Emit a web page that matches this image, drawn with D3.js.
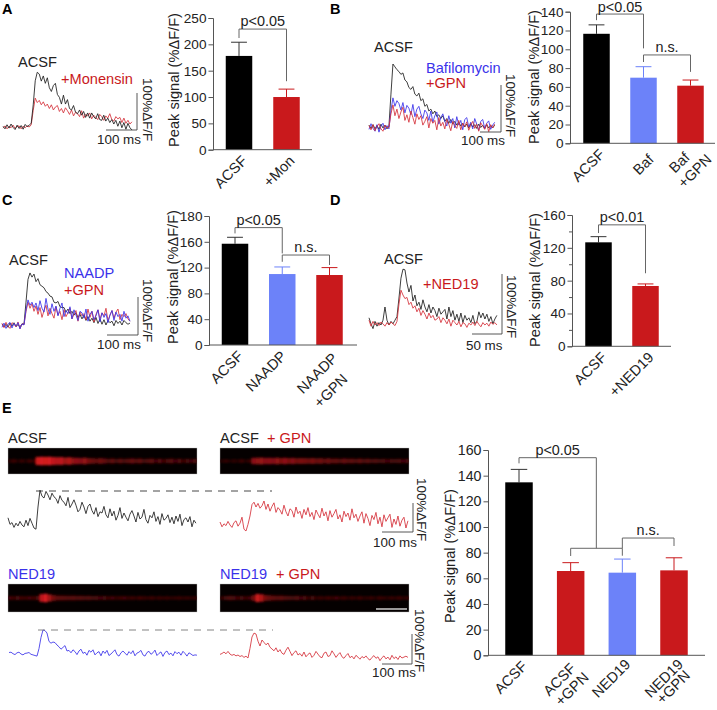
<!DOCTYPE html>
<html><head><meta charset="utf-8">
<script src="https://cdnjs.cloudflare.com/ajax/libs/d3/7.8.5/d3.min.js"></script>
<style>html,body{margin:0;padding:0;background:#fff}svg{display:block}text{font-family:"Liberation Sans",Arial,sans-serif;fill:#222}</style>
</head><body><svg id="c" width="717" height="710"></svg>
<script>
// ---- bar chart data ----
const catsA=["ACSF","+Mon"], meanA=[178,100], errA=[204,115];
const catsB=["ACSF","Baf","Baf\n+GPN"], meanB=[116.5,69.8,61.3], errB=[126,81.5,67.3];
const catsC=["ACSF","NAADP","NAADP\n+GPN"], meanC=[157,110,108.5], errC=[167,121,120];
const catsD=["ACSF","+NED19"], meanD=[126.7,73.5], errD=[133.6,76];
const catsE=["ACSF","ACSF\n+GPN","NED19","NED19\n+GPN"], meanE=[134.8,65.7,64.4,66.2], errE=[144.9,72.2,75,76];
const ticksA=[0,50,100,150,200,250], ticksB=[0,20,40,60,80,100,120,140], ticksC=[0,40,80,120,160,200], ticksD=[0,40,80,120,160], ticksE=[0,20,40,60,80,100,120,140,160];
const tickLabelsC=["0","40","80","120","160","180"];
const minorD=[20,60,100,140];
// ---- calcium transients, %dF/F against baseline ----
const trAblack=[2,-5,6,-3,8,-1,-7,5,-4,4,-6,7,1,5,10,60,125,148,143,124,138,118,133,106,96,112,118,88,80,62,86,62,74,50,46,58,40,36,46,32,42,26,38,24,38,28,22,36,20,18,32,16,24,12,20,8,18,2,16,-2,12,-6,10,-2,-8];
const trAred=[-3,3,-5,2,-2,5,-4,1,3,-5,2,-2,3,0,6,45,78,66,72,60,68,56,62,50,60,46,54,58,42,50,38,52,44,34,46,30,40,36,28,44,24,34,30,38,22,32,26,20,34,28,18,30,24,36,20,16,28,22,26,12,24,10,18,8,14];
const trBblack=[4,-3,5,-4,3,-5,6,-2,4,-4,2,70,134,128,122,118,112,115,100,96,84,80,86,70,66,72,56,60,44,48,34,38,28,34,22,26,18,24,12,18,8,16,6,12,4,10,2,8,0,6,-2,7,0,5,-3,6,-1,4,-3,5,-2,3,-2,4];
const trBblue=[-5,7,-3,-9,5,-11,2,8,-6,3,-4,35,62,44,56,50,36,52,30,46,40,26,48,22,38,44,28,18,36,30,14,34,10,24,32,6,20,28,12,2,24,8,18,-2,22,4,14,-6,16,20,0,10,-4,18,6,-7,12,16,-3,8,13,-5,4,10];
const trBred=[3,-6,5,-8,1,7,-4,-9,4,-2,0,28,47,24,38,18,32,42,14,26,10,34,20,6,28,16,24,4,12,22,-2,18,8,14,-6,20,2,10,-4,16,6,-8,12,3,-3,14,-6,8,1,11,-7,4,12,-3,6,-9,9,2,-5,7,-10,5,-2,6];
const trCblack=[3,-5,2,-6,5,-3,6,-4,1,-5,3,2,60,120,137,126,134,114,122,106,102,98,88,84,76,74,60,58,62,48,46,46,34,42,30,36,26,32,20,28,16,26,12,22,10,18,6,20,4,16,2,14,0,12,6,10,-2,12,4,10,0,12,6,2,5];
const trCblue=[-6,5,-9,2,7,-8,4,-3,6,-10,3,0,40,66,52,60,46,58,38,64,44,34,70,42,28,56,36,50,24,44,58,22,38,30,48,16,40,26,12,36,32,18,42,10,28,36,14,24,40,8,32,20,30,6,26,38,12,34,22,28,10,36,18,24,10];
const trCred=[4,-7,7,-3,-9,6,2,-5,8,-10,3,1,35,60,44,56,36,50,28,46,20,38,52,24,44,30,18,48,26,36,14,40,22,32,44,16,28,38,10,34,24,30,14,42,20,36,8,28,40,16,32,24,44,12,26,38,18,34,42,14,28,22,30,16,10];
const trDblack=[12,2,-6,6,-2,4,0,8,30,8,0,6,2,8,14,45,78,93,92,70,55,66,40,50,32,38,26,42,30,22,34,20,30,24,14,28,18,22,26,10,30,14,24,8,18,6,20,4,16,8,12,4,16,2,6,22,12,20,10,18,6,14,2,10,16];
const trDred=[8,-2,6,0,4,-1,5,2,-2,4,0,5,2,-1,6,35,58,50,44,46,34,38,28,32,22,28,16,24,18,10,20,12,16,8,10,14,4,12,8,2,10,-2,8,4,0,6,-3,4,2,-4,3,0,5,-1,6,1,-3,4,0,3,-2,5,1,4,0];
const trEblack=[24,2,8,-8,6,-3,12,0,-6,16,-2,22,6,-10,-14,60,116,96,90,112,100,84,106,94,88,72,98,82,76,64,92,58,70,84,66,44,52,76,60,38,62,70,48,36,58,28,44,40,62,34,24,54,30,46,16,32,58,22,40,26,14,36,48,30,10,42,20,26,52,18,6,32,24,44,12,28,2,38,16,22,34,8,26,4,30,12,36,-2,18,24,10,28,-6,16,6];
const trEred=[10,-6,4,-2,12,0,-8,8,14,-4,6,26,-14,-20,2,30,68,76,60,72,56,64,80,52,70,46,62,74,42,58,50,36,66,44,30,54,48,26,60,38,46,22,52,34,58,28,42,18,50,36,24,56,30,44,14,48,26,38,52,20,34,10,46,28,40,16,54,24,36,12,30,44,6,38,22,-2,32,18,42,4,26,-6,34,12,24,36,-8,20,2,30,-4,16,26,-10,14];
const trEblue=[5,6,1,-2,4,6,0,-3,2,3,5,-1,-3,-5,-7,18,55,80,78,70,42,36,40,38,30,24,16,22,28,10,12,4,14,8,-2,10,16,2,6,-4,12,6,14,-3,4,8,-6,10,2,12,-5,0,7,14,-2,-7,4,10,3,-4,8,1,11,-6,3,6,12,-3,-7,5,9,-1,4,13,-5,2,7,-8,5,10,-2,3,-6,8,1,6,-4,9,2,-7,4,0,-5,-3,-4];
const trEred2=[2,5,10,4,12,3,-1,2,-3,0,-5,-2,-8,-4,-10,22,60,73,70,46,30,50,42,34,40,26,20,14,24,10,18,6,2,16,26,12,-2,8,14,0,5,-4,10,-6,2,7,-8,-1,12,3,-6,-9,6,10,-5,-2,14,4,-8,1,8,-6,-11,-2,5,-9,-4,-13,-1,-7,-14,-5,-10,-3,-12,-17,-8,-2,-11,-6,-19,-9,-3,-13,-7,-16,-1,-12,-6,-15,-3,-10,-7,-4,-8];
// ---- line-scan images, brightness along the line ----
const scan1=[.22,.3,.18,.28,.2,.32,.24,.95,1,.98,1,.92,.88,.9,.78,.85,.72,.7,.66,.72,.6,.55,.5,.58,.52,.42,.5,.38,.48,.4,.46,.52,.44,.5,.36,.42,.48,.34,.44,.32,.4,.46,.34,.42,.3,.38,.34,.4];
const scan2=[.2,.26,.16,.24,.2,.3,.18,.28,.7,.72,.75,.68,.7,.66,.72,.64,.7,.62,.66,.58,.62,.6,.56,.62,.54,.58,.5,.56,.48,.5,.44,.52,.46,.48,.42,.5,.4,.46,.38,.42,.36,.4,.34,.38,.36,.4,.34,.38];
const scan3=[.34,.3,.36,.32,.3,.34,.32,.38,.9,1,.8,.6,.5,.48,.46,.44,.46,.42,.44,.4,.42,.36,.38,.34,.36,.3,.34,.28,.32,.34,.28,.3,.26,.32,.28,.26,.3,.24,.28,.26,.28,.24,.26,.28,.24,.26,.24,.26];
const scan4=[.28,.36,.42,.38,.32,.36,.3,.34,.6,.95,.85,.62,.55,.5,.46,.48,.42,.4,.36,.42,.34,.38,.28,.36,.24,.3,.26,.32,.28,.34,.26,.3,.22,.28,.24,.3,.22,.24,.28,.2,.3,.26,.22,.28,.24,.3,.22,.26];

// ---- styles ----
const RED="#c9191c", BLUE="#6c82f9", TBLUE="#3a32ea", LRED="#d5303a", LBLACK="#1c1c1c", AX="#555";
const svg=d3.select("#c");
const defs=svg.append("defs");
defs.append("filter").attr("id","blur").attr("x","-10%").attr("y","-100%").attr("width","120%").attr("height","300%").append("feGaussianBlur").attr("stdDeviation","0.9 1.1");

function label(x,y,t,fs,col,opt={}){const s=svg.append("text").attr("x",x).attr("y",y).attr("font-size",fs).text(t);
  if(col)s.style("fill",col); if(opt.w)s.attr("font-weight",opt.w); if(opt.a)s.attr("text-anchor",opt.a); return s;}
function vlabel(x,y,t,fs,rot){return svg.append("text").attr("transform",`translate(${x},${y}) rotate(${rot})`).attr("font-size",fs).attr("text-anchor","middle").text(t);}

function barChart(c){
  const y=d3.scaleLinear().domain([0,c.max]).range([c.y0,c.y1]);
  const x=d3.scalePoint().domain(c.cats).range([c.cx0,c.cx1]);
  const g=svg.append("g");
  c.cats.forEach((k,i)=>{
    const col=c.colors[i], cx=x(k), w=c.bw;
    g.append("line").attr("x1",cx).attr("x2",cx).attr("y1",y(c.mean[i])).attr("y2",y(c.err[i])).attr("stroke",col==="#000"?"#333":col).attr("stroke-width",1);
    g.append("line").attr("x1",cx-w*.3).attr("x2",cx+w*.3).attr("y1",y(c.err[i])).attr("y2",y(c.err[i])).attr("stroke",col==="#000"?"#333":col).attr("stroke-width",1);
    g.append("rect").attr("x",cx-w/2).attr("width",w).attr("y",y(c.mean[i])).attr("height",y(0)-y(c.mean[i])).attr("fill",col);
  });
  const ax=d3.axisLeft(y).tickValues(c.ticks).tickSize(4.5).tickPadding(2).tickFormat((d,i)=>c.tickLabels?c.tickLabels[i]:d);
  const ag=svg.append("g").attr("transform",`translate(${c.xa},0)`).call(ax);
  ag.selectAll("text").attr("font-size",c.fs).style("font-family",'"Liberation Sans",Arial,sans-serif').style("fill","#222");
  ag.selectAll("line,path").attr("stroke",AX);
  if(c.minor) svg.append("g").attr("transform",`translate(${c.xa},0)`).call(d3.axisLeft(y).tickValues(c.minor).tickSize(3).tickFormat("")).call(s=>{s.select("path").remove();s.selectAll("line").attr("stroke",AX);});
  svg.append("line").attr("x1",c.xa).attr("x2",c.xe).attr("y1",y(0)).attr("y2",y(0)).attr("stroke",AX);
  // category labels
  c.cats.forEach((k,i)=>{
    const base=c.l1?c.l1[i]:[0,0];
    k.split("\n").forEach((t,j)=>{
      const off=j&&c.l2?c.l2[i]:[0,0];
      const tx=x(k)+c.ldx+base[0]+off[0], ty=c.y0+c.ldy+base[1]+off[1];
      svg.append("text").attr("transform",`translate(${tx},${ty}) rotate(-45)`).attr("text-anchor","end").attr("font-size",c.lfs).text(t);
    });
  });
  // significance brackets
  (c.br||[]).forEach(b=>{
    const p=d3.path();
    const xa=x(c.cats[b.a])+(b.da||0), xb=x(c.cats[b.b])+(b.db||0);
    p.moveTo(xa,y(b.l)); p.lineTo(xa,y(b.t)); p.lineTo(xb,y(b.t)); p.lineTo(xb,y(b.r));
    svg.append("path").attr("d",p.toString()).attr("fill","none").attr("stroke","#666").attr("stroke-width",1);
    if(b.text) label((xa+xb)/2+(b.tx||0),y(b.t)-(b.ty||3),b.text,14.4,null,{a:"middle"});
  });
  vlabel(c.yl,(c.ylc),"Peak signal (%ΔF/F)",c.ylfs,-90);
  return {x,y};
}

function traces(c){
  const tx=d3.scaleLinear().domain([0,100]).range([0,c.px100ms]);
  const ty=d3.scaleLinear().domain([0,100]).range([c.base,c.base-c.px100]);
  c.series.forEach(s=>{
    const dt=s.dt||c.dt, x0=s.x0!==undefined?s.x0:c.x0, b=s.base!==undefined?s.base:c.base;
    const line=d3.line().x((d,i)=>x0+tx(i*dt)).y(d=>ty(d)+(b-c.base)).curve(d3.curveLinear);
    svg.append("path").attr("d",line(s.v)).attr("fill","none").attr("stroke",s.col).attr("stroke-width",.85).attr("stroke-linejoin","round");
  });
}
function scaleBar(xr,yt,yb,len,ms,msx,msy,nx,ny){
  const p=d3.path();p.moveTo(xr,yt);p.lineTo(xr,yb);p.lineTo(xr-len,yb);
  svg.append("path").attr("d",p.toString()).attr("fill","none").attr("stroke","#444").attr("stroke-width",.9);
  label(msx,msy,ms,13.4);
  svg.append("text").attr("transform",`translate(${nx},${ny}) rotate(90)`).attr("font-size",13.4).text("100%ΔF/F");
}
let scanId=0;
function scan(x0,yc,w,h,vals){
  svg.append("rect").attr("x",x0).attr("y",yc-h/2).attr("width",w).attr("height",h).attr("fill","#050000").attr("stroke","#bbb").attr("stroke-width",.4);
  const id="sc"+(scanId++);
  defs.append("clipPath").attr("id",id).append("rect").attr("x",x0).attr("y",yc-h/2).attr("width",w).attr("height",h);
  const sx=d3.scaleLinear().domain([0,vals.length]).range([x0,x0+w]);
  const cv=d3.scalePow().exponent(1.4).domain([0,1]).range(["#180000","#d81c20"]);
  const g=svg.append("g").attr("clip-path",`url(#${id})`).append("g").attr("filter","url(#blur)");
  vals.forEach((v,i)=>{const hh=1.5+v*7;
    g.append("rect").attr("x",sx(i)).attr("y",yc-hh/2).attr("width",sx(1)-sx(0)+.4).attr("height",hh).attr("fill",cv(v));});
}
function dashed(x1,x2,y,col){svg.append("line").attr("x1",x1).attr("x2",x2).attr("y1",y).attr("y2",y).attr("stroke",col).attr("stroke-width",.9).attr("stroke-dasharray","7 6");}

// panel letters
[["A",2,14],["B",330,14],["C",2,205],["D",330,205],["E",2,413]].forEach(d=>label(d[1],d[2],d[0],14.5,"#000",{w:"bold"}));

const LF=14.6;
// Panel A
traces({dt:6.5,x0:3,base:127,px100:37,px100ms:31,series:[{v:trAred,col:LRED},{v:trAblack,col:LBLACK}]});
label(18,67,"ACSF",14.6); label(61,84,"+Monensin",14.6,RED);
scaleBar(137,93,130,31,"100 ms",97,144,143,78);
barChart({cats:catsA,mean:meanA,err:errA,colors:["#000",RED],ticks:ticksA,max:250,y0:149.7,y1:18,cx0:239,cx1:286.5,bw:26.5,xa:213,xe:312,fs:13.6,lfs:LF,ldx:9,ldy:12,yl:179,ylc:80,ylfs:14.6,
  br:[{a:0,b:1,t:229,l:212,r:130,text:"p<0.05"}]});

// Panel B
traces({dt:9.5,x0:369,base:127,px100:47,px100ms:21,series:[{v:trBblack,col:LBLACK},{v:trBblue,col:TBLUE},{v:trBred,col:LRED}]});
label(374,52,"ACSF",14.6); label(426,73,"Bafilomycin",14.6,TBLUE); label(426,88,"+GPN",14.6,RED);
scaleBar(501,85,132,21,"100 ms",461,145,506,74);
barChart({cats:catsB,mean:meanB,err:errB,colors:["#000",BLUE,RED],ticks:ticksB,max:140,y0:143.3,y1:11.7,cx0:596.5,cx1:690.5,bw:26.5,xa:570,xe:715,fs:13.6,lfs:LF,ldx:9,ldy:12,l1:[[0,0],[2,5],[-9,3]],l2:[[0,0],[0,0],[22,2]],yl:539,ylc:77,ylfs:14.6,
  br:[{a:0,b:1,t:137.5,l:131,r:101,text:"p<0.05",ty:2},{a:1,b:2,t:94,l:86.5,r:76,text:"n.s."}]});

// Panel C
traces({dt:6.45,x0:2,base:325,px100:38,px100ms:31,series:[{v:trCblack,col:LBLACK},{v:trCred,col:LRED},{v:trCblue,col:TBLUE}]});
label(9,265,"ACSF",14.6); label(64,278,"NAADP",14.6,TBLUE); label(64,295,"+GPN",14.6,RED);
scaleBar(138,297,335,31,"100 ms",97,349,143,279);
barChart({cats:catsC,mean:meanC,err:errC,colors:["#000",BLUE,RED],ticks:ticksC,tickLabels:tickLabelsC,max:200,y0:345,y1:216,cx0:235,cx1:329.5,bw:26.5,xa:209,xe:357,fs:13.6,lfs:LF,ldx:9,ldy:12,l1:[[0,0],[-4,0],[0,2]],l2:[[0,0],[0,0],[10,21]],yl:178,ylc:277,ylfs:14.6,
  br:[{a:0,b:1,t:182,l:173,r:142,text:"p<0.05"},{a:1,b:2,t:139.5,l:129,r:124,text:"n.s."}]});

// Panel D
traces({dt:3.33,x0:369,base:325,px100:60,px100ms:60,series:[{v:trDblack,col:LBLACK},{v:trDred,col:LRED}]});
label(384,264,"ACSF",14.6); label(423,289,"+NED19",14.6,RED);
scaleBar(502,274,334,30,"50 ms",466,350,507,275);
barChart({cats:catsD,mean:meanD,err:errD,colors:["#000",RED],ticks:ticksD,minor:minorD,max:160,y0:346.3,y1:215,cx0:598.5,cx1:645.5,bw:26.5,xa:572,xe:671,fs:13.6,lfs:LF,ldx:9,ldy:12,yl:540,ylc:280,ylfs:14.6,
  br:[{a:0,b:1,t:148,l:138,r:89,text:"p<0.01"}]});

// Panel E
label(8,443,"ACSF",14.6); label(220,443,"ACSF",14.6); label(267,443,"+ GPN",14.6,RED);
label(8,579,"NED19",14.6,TBLUE); label(220,579,"NED19",14.6,TBLUE); label(276,579,"+ GPN",14.6,RED);
scan(8,461,189,26,scan1); scan(220,461,189,26,scan2); scan(8,598,189,28,scan3); scan(220,598,189,28,scan4);
svg.append("line").attr("x1",376).attr("x2",407).attr("y1",609).attr("y2",609).attr("stroke","#fff").attr("stroke-width",1.2);
traces({dt:6.45,x0:8,base:525,px100:30,px100ms:31,series:[{v:trEblack,col:LBLACK},{v:trEred,col:LRED,x0:220}]});
traces({dt:6.45,x0:9,base:654,px100:30,px100ms:31,series:[{v:trEblue,col:TBLUE},{v:trEred2,col:LRED,x0:220,base:655}]});
dashed(36,272,491,"#333"); dashed(38,273,630,"#777");
scaleBar(413,503,532,31,"100 ms",373,547,417,478);
scaleBar(412,634,664,30,"100 ms",372,677,415,609);
barChart({cats:catsE,mean:meanE,err:errE,colors:["#000",RED,BLUE,RED],ticks:ticksE,max:160,y0:655.3,y1:450,cx0:519,cx1:674,bw:27.5,xa:488,xe:705,fs:14.2,lfs:LF,ldx:9,ldy:12,l1:[[0,0],[-3,2],[0,-2],[1,-2]],l2:[[0,0],[13,9],[0,0],[7,11]],yl:455,ylc:556,ylfs:14.6,
  br:[{a:0,b:2,db:-26,t:154,l:149.6,r:83.4,text:"p<0.05"},{a:1,b:2,t:83.4,l:77.4,r:77.6},{a:2,b:3,t:91.4,l:83.4,r:85.2,text:"n.s."}]});
</script></body></html>
